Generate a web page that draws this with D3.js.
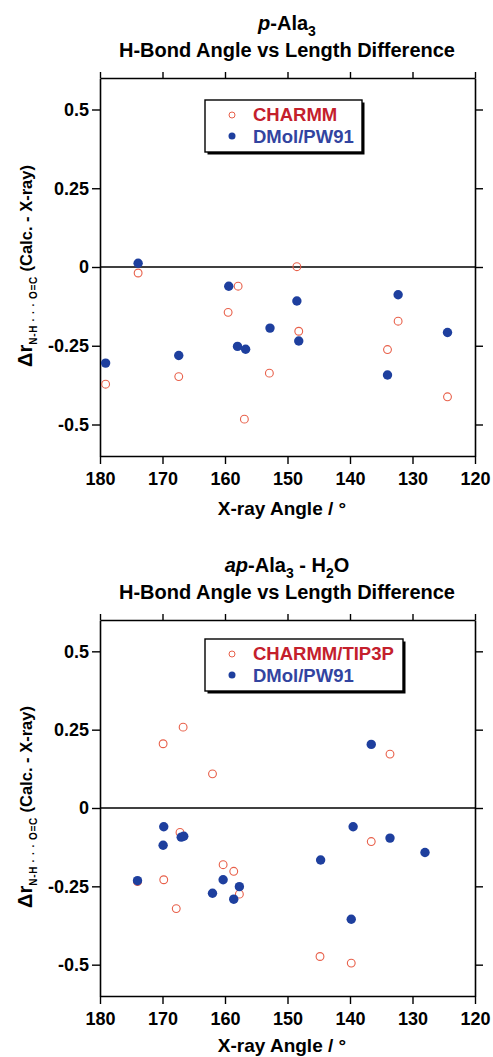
<!DOCTYPE html>
<html>
<head>
<meta charset="utf-8">
<script src="https://cdn.jsdelivr.net/npm/d3@7"></script>
<style>
  body { margin: 0; background: #fff; }
  svg { display: block; font-family: "Liberation Sans", Arial, sans-serif; }
</style>
</head>
<body>
<svg id="chart" width="493" height="1057"></svg>
<script>
// panel 1: p-Ala3
const p1CharmmAngle = [179.1, 173.9, 167.4, 159.5, 157.9, 156.9, 152.9, 148.5, 148.2, 134.0, 132.3, 124.4];
const p1CharmmDiff  = [-0.372, -0.019, -0.348, -0.144, -0.061, -0.483, -0.337, 0.001, -0.204, -0.262, -0.172, -0.412];
const p1DmolAngle   = [179.1, 173.9, 167.4, 159.4, 158.0, 156.7, 152.8, 148.5, 148.2, 134.0, 132.3, 124.4];
const p1DmolDiff    = [-0.305, 0.012, -0.281, -0.061, -0.252, -0.261, -0.194, -0.108, -0.235, -0.343, -0.088, -0.208];

// panel 2: ap-Ala3 - H2O
const p2CharmmAngle = [169.9, 166.7, 162.0, 133.6, 167.2, 136.6, 160.3, 158.6, 169.8, 174.0, 157.7, 167.8, 144.8, 139.8];
const p2CharmmDiff  = [0.205, 0.258, 0.109, 0.172, -0.078, -0.107, -0.181, -0.202, -0.229, -0.235, -0.275, -0.321, -0.474, -0.495];
const p2DmolAngle   = [136.6, 169.8, 139.5, 169.9, 167.0, 166.6, 133.6, 128.0, 144.7, 174.0, 160.3, 162.0, 157.7, 158.6, 139.8];
const p2DmolDiff    = [0.203, -0.060, -0.060, -0.119, -0.093, -0.090, -0.096, -0.142, -0.166, -0.232, -0.229, -0.272, -0.251, -0.291, -0.355];

const xTicks = [180, 170, 160, 150, 140, 130, 120];
const yTicks = [0.5, 0.25, 0, -0.25, -0.5];

const blue = '#1e3f9e';
const orange = '#e8604a';
const legendRed = '#c4202c';
const legendBlue = '#3244a0';

const svg = d3.select('#chart');

function drawPanel(cfg) {
  const left = 100, right = 475;
  const x = d3.scaleLinear().domain([180, 120]).range([left, right]);
  const y = d3.scaleLinear().domain([-0.6, 0.6]).range([cfg.bottom, cfg.top]);
  const g = svg.append('g');

  // titles
  const t1 = g.append('text').attr('x', 287).attr('y', cfg.top - 48)
    .attr('text-anchor', 'middle').style('font-size', '20px').style('font-weight', 'bold');
  cfg.title(t1);
  g.append('text').attr('x', 287).attr('y', cfg.top - 21)
    .attr('text-anchor', 'middle').style('font-size', '20px').style('font-weight', 'bold')
    .text('H-Bond Angle vs Length Difference');

  // zero line
  g.append('line').attr('x1', left).attr('x2', right).attr('y1', y(0)).attr('y2', y(0))
    .attr('stroke', '#000').attr('stroke-width', 1.4);

  const fmtY = d => d === 0 ? '0' : String(d);
  const styleAxis = a => {
    a.select('.domain').attr('stroke-width', 1.6);
    a.selectAll('.tick line').attr('stroke-width', 1.4);
    a.selectAll('.tick text').style('font-size', '18px').style('font-weight', 'bold')
      .style('font-family', '"Liberation Sans", Arial, sans-serif');
  };

  g.append('g').attr('transform', `translate(${left},0)`)
    .call(d3.axisLeft(y).tickValues(yTicks).tickFormat(fmtY).tickSize(8).tickSizeOuter(0).tickPadding(3))
    .call(styleAxis);
  g.append('g').attr('transform', `translate(${right},0)`)
    .call(d3.axisRight(y).tickValues(yTicks).tickFormat('').tickSize(8).tickSizeOuter(0))
    .call(styleAxis);
  g.append('g').attr('transform', `translate(0,${cfg.top})`)
    .call(d3.axisTop(x).tickValues(xTicks).tickFormat('').tickSize(6).tickSizeOuter(0))
    .call(styleAxis);
  g.append('g').attr('transform', `translate(0,${cfg.bottom})`)
    .call(d3.axisBottom(x).tickValues(xTicks).tickFormat(d3.format('d')).tickSize(8).tickSizeOuter(0).tickPadding(8))
    .call(styleAxis);

  // axis titles
  g.append('text').attr('x', 282).attr('y', Math.min(cfg.bottom + 59, 1052))
    .attr('text-anchor', 'middle').style('font-size', '19px').style('font-weight', 'bold')
    .text('X-ray Angle / °');

  const yl = g.append('text')
    .attr('transform', `translate(32,${(cfg.top + cfg.bottom) / 2 - 1}) rotate(-90)`)
    .attr('text-anchor', 'middle').style('font-size', '16.5px').style('font-weight', 'bold');
  yl.append('tspan').style('font-size', '20px').text('Δr');
  yl.append('tspan').attr('dy', 5).style('font-size', '10px')
    .attr('textLength', 68).attr('lengthAdjust', 'spacing').text('N-H · · · O=C');
  yl.append('tspan').attr('dy', -5).text(' (Calc. - X-ray)');

  // points
  const charmm = cfg.charmmAngle.map((a, i) => ({ a, v: cfg.charmmDiff[i] }));
  const dmol = cfg.dmolAngle.map((a, i) => ({ a, v: cfg.dmolDiff[i] }));

  g.append('g').selectAll('circle').data(charmm).enter().append('circle')
    .attr('cx', d => x(d.a)).attr('cy', d => y(d.v)).attr('r', 3.9)
    .attr('fill', 'none').attr('stroke', orange).attr('stroke-width', 1.1);
  g.append('g').selectAll('circle').data(dmol).enter().append('circle')
    .attr('cx', d => x(d.a)).attr('cy', d => y(d.v)).attr('r', 4.7)
    .attr('fill', blue);

  // legend
  const lx = 205, ly = cfg.legendTop, lw = cfg.legendWidth, lh = 52;
  g.append('rect').attr('x', lx + 2.5).attr('y', ly + 2.5).attr('width', lw).attr('height', lh).attr('fill', '#000');
  g.append('rect').attr('x', lx).attr('y', ly).attr('width', lw).attr('height', lh)
    .attr('fill', '#fff').attr('stroke', '#000').attr('stroke-width', 1.4);
  g.append('circle').attr('cx', lx + 27).attr('cy', ly + 15).attr('r', 3)
    .attr('fill', 'none').attr('stroke', orange).attr('stroke-width', 1);
  g.append('circle').attr('cx', lx + 27).attr('cy', ly + 36).attr('r', 3.5).attr('fill', blue);
  g.append('text').attr('x', lx + 48).attr('y', ly + 21).attr('fill', legendRed)
    .style('font-size', '18.5px').style('font-weight', 'bold').text(cfg.charmmLabel);
  g.append('text').attr('x', lx + 48).attr('y', ly + 43).attr('fill', legendBlue)
    .style('font-size', '18.5px').style('font-weight', 'bold').text('DMol/PW91');
}

drawPanel({
  top: 78, bottom: 456,
  title: t => {
    t.append('tspan').style('font-style', 'italic').text('p');
    t.append('tspan').text('-Ala');
    t.append('tspan').attr('dy', 6).style('font-size', '14px').text('3');
  },
  charmmAngle: p1CharmmAngle, charmmDiff: p1CharmmDiff,
  dmolAngle: p1DmolAngle, dmolDiff: p1DmolDiff,
  legendTop: 100, legendWidth: 157, charmmLabel: 'CHARMM'
});

drawPanel({
  top: 620, bottom: 996,
  title: t => {
    t.append('tspan').style('font-style', 'italic').text('ap');
    t.append('tspan').text('-Ala');
    t.append('tspan').attr('dy', 6).style('font-size', '14px').text('3');
    t.append('tspan').attr('dy', -6).text(' - H');
    t.append('tspan').attr('dy', 6).style('font-size', '14px').text('2');
    t.append('tspan').attr('dy', -6).text('O');
  },
  charmmAngle: p2CharmmAngle, charmmDiff: p2CharmmDiff,
  dmolAngle: p2DmolAngle, dmolDiff: p2DmolDiff,
  legendTop: 639, legendWidth: 198, charmmLabel: 'CHARMM/TIP3P'
});
</script>
</body>
</html>
